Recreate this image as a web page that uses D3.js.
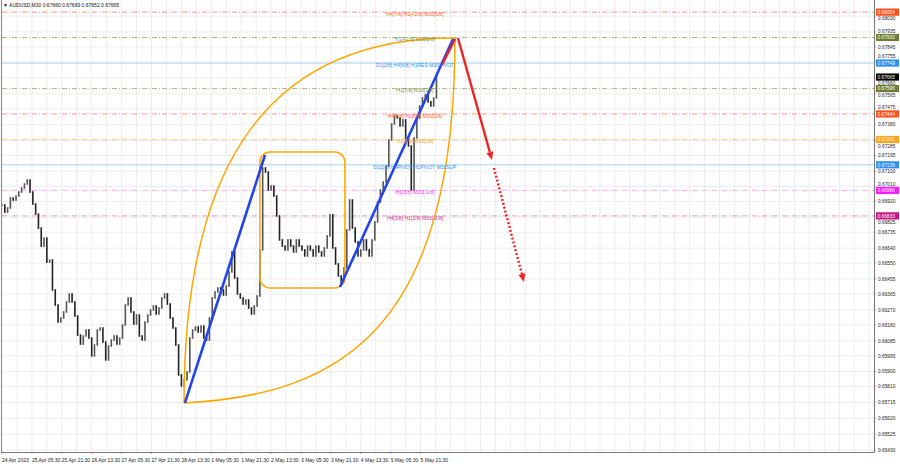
<!DOCTYPE html>
<html><head><meta charset="utf-8">
<script src="https://cdn.jsdelivr.net/npm/d3@7"></script>
<style>body{margin:0;background:#fff}svg{display:block;font-family:"Liberation Sans",Arial,sans-serif}</style>
</head><body><svg id="c" width="900" height="468"></svg>
<script>
// ---------- DATA ----------
const symbolTitle = "AUDUSD,M30  0.67660 0.67669 0.67652 0.67665";
// closes of 1.5-hour groups (3 x M30 bars)
const closes = [0.66898,0.66856,0.66880,0.66940,0.66928,0.66952,0.66976,0.67000,0.67024,0.67048,
 0.66976,0.66904,0.66844,0.66760,0.66652,0.66700,0.66556,0.66568,0.66389,0.66299,
 0.66197,0.66221,0.66257,0.66317,0.66365,0.66317,0.66233,0.66119,0.66065,0.66113,
 0.66149,0.66101,0.65994,0.66059,0.66149,0.66161,0.66077,0.65970,0.66053,0.66089,
 0.66113,0.66065,0.66101,0.66179,0.66299,0.66341,0.66257,0.66185,0.66239,0.66113,
 0.66089,0.66197,0.66239,0.66269,0.66293,0.66245,0.66281,0.66341,0.66365,0.66305,
 0.66221,0.66161,0.66059,0.65880,0.65814,0.65850,0.65898,0.66101,0.66149,0.66167,
 0.66137,0.66173,0.66101,0.66089,0.66221,0.66341,0.66377,0.66401,0.66389,0.66359,
 0.66413,0.66497,0.66617,0.66461,0.66365,0.66341,0.66305,0.66329,0.66281,0.66245,
 0.66293,0.66353,0.66629,0.67120,0.67096,0.66988,0.67012,0.66952,0.66833,0.66689,
 0.66652,0.66629,0.66689,0.66652,0.66617,0.66689,0.66652,0.66629,0.66593,0.66652,
 0.66629,0.66593,0.66652,0.66617,0.66593,0.66641,0.66713,0.66839,0.66641,0.66545,
 0.66473,0.66437,0.66521,0.66749,0.66928,0.66760,0.66677,0.66593,0.66629,0.66689,
 0.66629,0.66593,0.66689,0.66797,0.66916,0.66988,0.67036,0.67132,0.67288,0.67384,
 0.67432,0.67420,0.67372,0.67408,0.67300,0.67252,0.66988,0.67300,0.67420,0.67492,
 0.67540,0.67558,0.67516,0.67492,0.67540,0.67665];
const barsPerGroup = 3;
const timeLabels = ["24 Apr 2023","25 Apr 05:30","25 Apr 21:30","26 Apr 13:30","27 Apr 05:30","27 Apr 21:30",
 "28 Apr 13:30","1 May 05:30","1 May 21:30","2 May 13:30","3 May 05:30","3 May 21:30","4 May 13:30","5 May 05:30","5 May 21:30"];
const barsPerLabel = 32;
const priceTicks = [0.68030,0.67935,0.67845,0.67755,0.67660,0.67565,0.67475,0.67380,0.67285,0.67195,0.67100,0.67010,
 0.66920,0.66825,0.66735,0.66640,0.66550,0.66455,0.66365,0.66270,0.66180,0.66085,0.65995,0.65900,0.65810,
 0.65715,0.65620,0.65525,0.65430];
const levelPrices = [0.68054,0.67902,0.67749,0.67596,0.67444,0.67291,0.67139,0.66986,0.66833];
const levelNames = ["H4[7/8] H1[+2/8] M30[6/8]","H1[+1/8] M30[5/8]","D1[3/8] H4[6/8] H1RES M30PIVOT",
 "H1[7/8] M30[3/8]","H4[5/8] H1[6/8] M30[2/8]","H1[5/8] M30[1/8]","D1[2/8] H4PIVOT H1PIVOT M30SUP",
 "H1[3/8] M30[-1/8]","H4[3/8] H1[2/8] M30[-2/8]"];
const levelKinds = ["red","olive","blue","olive","red","orange","blue","magenta","violet"];
const currentPrice = 0.67665;
// drawing objects: [bar, price]
const blueTrend1 = [[195.8,0.65712],[281.5,0.67198]];
const blueTrend2 = [[361.7,0.66407],[482.7,0.67893]];
const redShort = [[470.9,0.67737],[484.8,0.67893]];
const redArrow = [[488.0,0.67899],[524.4,0.67168]];
const redDotted = [[526.5,0.67120],[558.6,0.66437]];
const arcUpper = [[194.8,0.65712],[194.8,0.66988],[265.4,0.67899],[484.8,0.67899]];
const arcLower = [[194.8,0.65712],[361.7,0.65760],[484.8,0.66149],[484.8,0.67899]];
const boxCorners = [[276,0.67216],[367,0.66401]];

// ---------- STYLES ----------
const kindStyle = {
  red:{line:"#ff8a70",box:"#ff4f1e",text:"#ff5a30",dash:"5,2,1,2"},
  olive:{line:"#a7ad70",box:"#6b7d34",text:"#7f8c3c",dash:"5,2,1,2"},
  blue:{line:"#a6d4f5",box:"#2b90f0",text:"#2b8ff0",dash:null},
  orange:{line:"#ffc77a",box:"#ffa31a",text:"#f5a020",dash:"5,2,1,2"},
  magenta:{line:"#ff9af5",box:"#ff14ff",text:"#f030f0",dash:"5,2,1,2"},
  violet:{line:"#e88bc0",box:"#c71585",text:"#cc2a90",dash:"5,2,1,2"}
};

// ---------- SCALES ----------
const plotL = 2, plotR = 874, plotT = 0, plotB = 452;
const x = d3.scaleLinear().domain([0, barsPerLabel*14]).range([2, 420.6]);
const y = d3.scaleLinear().domain([0.65430, 0.67935]).range([450, 32]);

const svg = d3.select("#c");
svg.append("rect").attr("width",900).attr("height",468).attr("fill","#fff");

svg.append("defs").append("clipPath").attr("id","pc")
  .append("rect").attr("x",plotL).attr("y",plotT).attr("width",plotR-plotL).attr("height",plotB-plotT);

const grid = svg.append("g").attr("clip-path","url(#pc)");
const vGrid = d3.range(0, 60).map(k => k*barsPerLabel/2);
grid.selectAll("line.v").data(vGrid).join("line")
  .attr("x1",d=>x(d)).attr("x2",d=>x(d)).attr("y1",plotT).attr("y2",plotB)
  .attr("stroke","#e9e9e9").attr("stroke-width",0.8);
grid.selectAll("line.h").data(priceTicks).join("line")
  .attr("x1",plotL).attr("x2",plotR).attr("y1",d=>y(d)).attr("y2",d=>y(d))
  .attr("stroke","#e9e9e9").attr("stroke-width",0.8);

const plot = svg.append("g").attr("clip-path","url(#pc)");

levelPrices.forEach((p,i)=>{
  const st = kindStyle[levelKinds[i]];
  plot.append("line").attr("x1",plotL).attr("x2",plotR).attr("y1",y(p)).attr("y2",y(p))
    .attr("stroke",st.line).attr("stroke-width",st.dash?0.9:1)
    .attr("stroke-dasharray",st.dash);
});

// candles
const candles = plot.append("g");
closes.forEach((c,j)=>{
  const o = j>0 ? closes[j-1] : c;
  const cx = x(j*barsPerGroup);
  const top = y(Math.max(o,c)), bot = y(Math.min(o,c));
  candles.append("rect").attr("x",cx-0.8).attr("width",1.6)
    .attr("y",top-0.8).attr("height",Math.max(1.6,bot-top+1.6))
    .attr("fill", c>=o ? "#555" : "#222");
});

// orange shapes
const pt = d => [x(d[0]), y(d[1])];
function bez(a){const p=a.map(pt);return `M${p[0]}C${p[1]} ${p[2]} ${p[3]}`;}
plot.append("path").attr("d",bez(arcUpper)).attr("fill","none").attr("stroke","#ffa500").attr("stroke-width",1.5);
plot.append("path").attr("d",bez(arcLower)).attr("fill","none").attr("stroke","#ffa500").attr("stroke-width",1.5);
const b0 = pt(boxCorners[0]), b1 = pt(boxCorners[1]);
plot.append("rect").attr("x",b0[0]).attr("y",b0[1]).attr("width",b1[0]-b0[0]).attr("height",b1[1]-b0[1])
  .attr("rx",10).attr("ry",10).attr("fill","none").attr("stroke","#ffa500").attr("stroke-width",1.5);

[blueTrend1, blueTrend2].forEach(t=>{
  const a=pt(t[0]), b=pt(t[1]);
  plot.append("line").attr("x1",a[0]).attr("y1",a[1]).attr("x2",b[0]).attr("y2",b[1])
    .attr("stroke","#2344e8").attr("stroke-width",2.6);
});

function arrowLine(t, dash){
  const a=pt(t[0]), b=pt(t[1]);
  const ang = Math.atan2(b[1]-a[1], b[0]-a[0]);
  const L=8, W=3.5;
  const bx=b[0]-L*Math.cos(ang), by=b[1]-L*Math.sin(ang);
  plot.append("line").attr("x1",a[0]).attr("y1",a[1]).attr("x2",bx).attr("y2",by)
    .attr("stroke","#ee2222").attr("stroke-width",2.4).attr("stroke-dasharray",dash);
  plot.append("path").attr("d",`M${b[0]},${b[1]}L${bx+W*Math.sin(ang)},${by-W*Math.cos(ang)}L${bx-W*Math.sin(ang)},${by+W*Math.cos(ang)}Z`)
    .attr("fill","#ee2222");
}
{const a=pt(redShort[0]), b=pt(redShort[1]);
 plot.append("line").attr("x1",a[0]).attr("y1",a[1]).attr("x2",b[0]).attr("y2",b[1]).attr("stroke","#ee2222").attr("stroke-width",2.4);}
arrowLine(redArrow, null);
arrowLine(redDotted, "2,2");

levelPrices.forEach((p,i)=>{
  const st = kindStyle[levelKinds[i]];
  plot.append("text").attr("x",415).attr("y",y(p)+3.8).attr("text-anchor","middle")
    .attr("font-size",5).attr("fill",st.text).text(levelNames[i]);
});

// frame
svg.append("line").attr("x1",1.5).attr("x2",1.5).attr("y1",0).attr("y2",plotB).attr("stroke","#888").attr("stroke-width",1);
svg.append("line").attr("x1",plotR+0.5).attr("x2",plotR+0.5).attr("y1",0).attr("y2",plotB+0.5).attr("stroke","#777").attr("stroke-width",1);
svg.append("line").attr("x1",1).attr("x2",plotR+0.5).attr("y1",plotB+0.5).attr("y2",plotB+0.5).attr("stroke","#777").attr("stroke-width",1);

svg.append("text").attr("x",3).attr("y",6.5).attr("font-size",5).attr("fill","#111").text("\u25BC " + symbolTitle);

// price axis
const ax = svg.append("g");
const boxYs = levelPrices.concat([currentPrice]).map(p=>y(p));
function labelY(d){
  let yy = y(d);
  boxYs.forEach(b=>{ const dd = yy-b; if (Math.abs(dd) < 6.5) yy = b + (dd>=0?6.5:-6.5); });
  return yy;
}
ax.selectAll("text.t").data(priceTicks).join("text")
  .attr("x",878).attr("y",d=>labelY(d)+1.8).attr("font-size",4.8).attr("fill","#222").text(d=>d.toFixed(5));
ax.selectAll("line.tk").data(priceTicks).join("line")
  .attr("x1",plotR).attr("x2",plotR+2).attr("y1",d=>y(d)).attr("y2",d=>y(d)).attr("stroke","#777").attr("stroke-width",0.6);
function priceBox(p, fill){
  ax.append("rect").attr("x",876).attr("y",y(p)-3.6).attr("width",23).attr("height",7.2).attr("fill",fill);
  ax.append("text").attr("x",877.5).attr("y",y(p)+1.8).attr("font-size",4.8).attr("fill","#fff").text(p.toFixed(5));
}
levelPrices.forEach((p,i)=>priceBox(p, kindStyle[levelKinds[i]].box));
priceBox(currentPrice, "#000");

// time axis
const tx = svg.append("g");
timeLabels.forEach((t,k)=>{
  const xx = x(k*barsPerLabel);
  tx.append("line").attr("x1",xx).attr("x2",xx).attr("y1",plotB).attr("y2",plotB+2).attr("stroke","#777").attr("stroke-width",0.6);
  tx.append("text").attr("x",xx).attr("y",plotB+10).attr("font-size",5).attr("fill","#222").text(t);
});
</script></body></html>
